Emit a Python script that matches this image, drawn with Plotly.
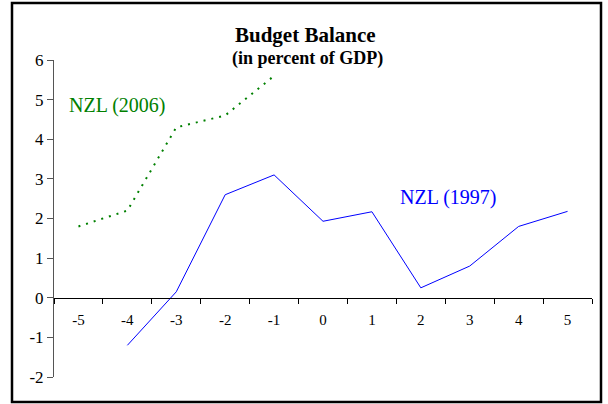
import plotly.graph_objects as go

categories = ["-5", "-4", "-3", "-2", "-1", "0", "1", "2", "3", "4", "5"]
nzl1997_x = ["-4", "-3", "-2", "-1", "0", "1", "2", "3", "4", "5"]
nzl1997_y = [-1.2, 0.15, 2.6, 3.1, 1.93, 2.17, 0.25, 0.8, 1.8, 2.18]
nzl2006_x = ["-5", "-4", "-3", "-2", "-1"]
nzl2006_y = [1.8, 2.2, 4.3, 4.6, 5.6]
y_ticks = [-2, -1, 0, 1, 2, 3, 4, 5, 6]
y_ticktext = ["-2", "-1", "0", "1", "2", "3", "4", "5", "6"]

serif = "Liberation Serif, Times New Roman, serif"

L, R, T, B = 54, 16, 60, 27
PW, PH = 608 - L - R, 404 - T - B

def px(x):
    return (x - L) / PW

def py(y):
    return (404 - B - y) / PH

fig = go.Figure()
fig.add_trace(go.Scatter(x=nzl1997_x, y=nzl1997_y, mode="lines",
                         line=dict(color="#0000ff", width=1), showlegend=False))
fig.add_trace(go.Scatter(x=nzl2006_x, y=nzl2006_y, mode="lines",
                         line=dict(color="#008000", width=2, dash="2px,6px"), showlegend=False))

fig.update_layout(
    width=608, height=404,
    margin=dict(l=L, r=R, t=T, b=B),
    paper_bgcolor="white", plot_bgcolor="white",
    font=dict(family=serif, size=14, color="black"),
    xaxis=dict(type="category", categoryorder="array", categoryarray=categories,
               range=[-0.5, 10.5], anchor="free", position=0.25,
               showline=True, linecolor="black", linewidth=1,
               ticks="outside", ticklen=5, tickcolor="black", tickson="boundaries",
               ticklabelstandoff=8,
               showgrid=False, zeroline=False, tickfont=dict(size=15, family=serif)),
    yaxis=dict(range=[-2, 6], tickvals=y_ticks, ticktext=y_ticktext, showline=True,
               linecolor="#555555", linewidth=1, ticks="outside", ticklen=6,
               tickcolor="#555555", showgrid=False, zeroline=False,
               tickfont=dict(size=17, family=serif)),
    shapes=[dict(type="rect", xref="paper", yref="paper",
                 x0=px(12), x1=px(601), y0=py(402), y1=py(3),
                 line=dict(color="black", width=2.5))],
    annotations=[
        dict(text="<b>Budget Balance</b>", xref="paper", yref="paper",
             x=px(305), y=py(35), showarrow=False,
             font=dict(size=21, family=serif), xanchor="center", yanchor="middle"),
        dict(text="<b>(in percent of GDP)</b>", xref="paper", yref="paper",
             x=px(307), y=py(58), showarrow=False,
             font=dict(size=18, family=serif), xanchor="center", yanchor="middle"),
        dict(text="NZL (2006)", xref="paper", yref="paper",
             x=px(117), y=py(105), showarrow=False,
             font=dict(size=20, family=serif, color="#008000"), xanchor="center", yanchor="middle"),
        dict(text="NZL (1997)", xref="paper", yref="paper",
             x=px(448), y=py(197), showarrow=False,
             font=dict(size=20, family=serif, color="#0000ff"), xanchor="center", yanchor="middle"),
    ],
)

fig.write_html("out.html", config={"displayModeBar": False},
               post_script="document.body.style.margin='0';")
